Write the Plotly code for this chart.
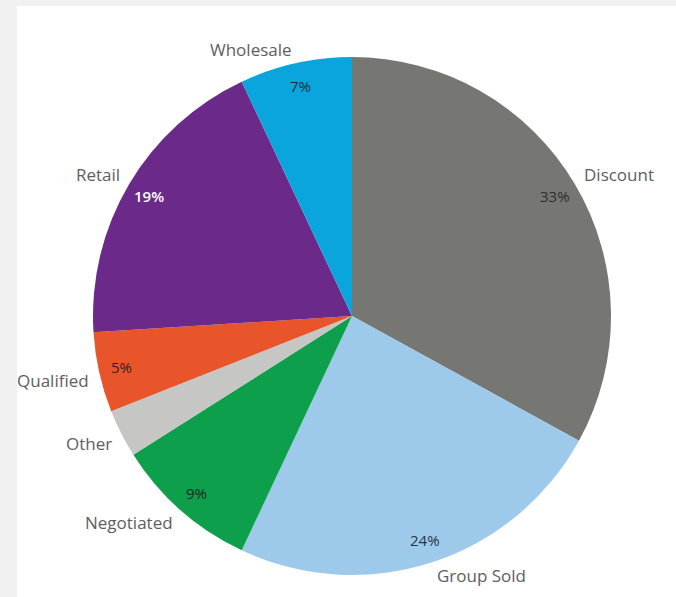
import math
import plotly.graph_objects as go

# Share of sales by channel (percent), listed clockwise from 12 o'clock
channels = ["Discount", "Group Sold", "Negotiated", "Other", "Qualified", "Retail", "Wholesale"]
shares = [33, 24, 9, 3, 5, 19, 7]
slice_colors = ["#767673", "#9dcaeb", "#0d9f4b", "#c6c6c4", "#e8552b", "#6b2a8a", "#0ba5dd"]
pct_text_colors = ["#2e2e2e", "#24344a", "#1a261e", "#333333", "#3a1e14", "#ffffff", "#17303e"]
min_share_labelled = 4  # slices smaller than this get no percentage inside

W, H = 676, 597
CX, CY, R = 352, 316, 259          # pie centre and radius in pixels
NAME_GAP = 8                        # distance from rim to the nearest corner of a name label
NAME_HALF_H = 6                     # half the visible height of a name label
PCT_RADIUS = 0.91                   # relative radius of the percentage labels

fig = go.Figure(
    go.Pie(
        labels=channels,
        values=shares,
        marker=dict(colors=slice_colors, line=dict(width=0)),
        sort=False,
        direction="clockwise",
        rotation=0,
        textinfo="none",
        hoverinfo="label+percent",
        domain=dict(x=[(CX - R) / W, (CX + R) / W], y=[1 - (CY + R) / H, 1 - (CY - R) / H]),
    )
)


def to_paper(px, py):
    return px / W, 1 - py / H


total = sum(shares)
annotations = []
cum = 0
for name, v, tc in zip(channels, shares, pct_text_colors):
    mid = (cum + v / 2) / total * 2 * math.pi
    cum += v
    s, c = math.sin(mid), math.cos(mid)

    # channel name outside the rim, its nearest corner on the slice's mid ray
    nx, ny = to_paper(CX + (R + NAME_GAP) * s, CY - (R + NAME_GAP) * c)
    annotations.append(dict(
        x=nx, y=ny, xref="paper", yref="paper", text=name, showarrow=False,
        xanchor="left" if s > 0 else "right", yanchor="middle",
        yshift=NAME_HALF_H if c > 0 else -NAME_HALF_H,
        font=dict(family="Open Sans", size=17, color="#5e5e5e"),
    ))

    # percentage just inside the rim
    if v >= min_share_labelled:
        qx, qy = to_paper(CX + PCT_RADIUS * R * s, CY - PCT_RADIUS * R * c)
        annotations.append(dict(
            x=qx, y=qy, xref="paper", yref="paper", text=f"{round(v / total * 100)}%",
            showarrow=False, xanchor="center", yanchor="middle",
            font=dict(family="Open Sans", size=15, color=tc, weight=600 if tc == "#ffffff" else 400),
        ))

fig.update_layout(
    width=W, height=H,
    margin=dict(l=0, r=0, t=0, b=0),
    paper_bgcolor="#f1f1f1",
    showlegend=False,
    annotations=annotations,
    shapes=[dict(type="rect", xref="paper", yref="paper", layer="below",
                 x0=17 / W, x1=1, y0=0, y1=1 - 6 / H,
                 fillcolor="#ffffff", line=dict(width=0))],
)

fig.write_html("out.html")
